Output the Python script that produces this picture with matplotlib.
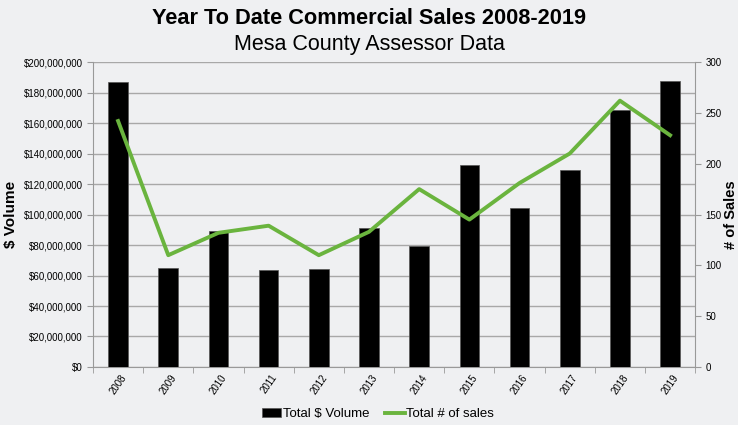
import numpy as np
import matplotlib
matplotlib.use("Agg")
import matplotlib.pyplot as plt
from matplotlib.ticker import FuncFormatter, MultipleLocator

years = ["2008", "2009", "2010", "2011", "2012", "2013",
         "2014", "2015", "2016", "2017", "2018", "2019"]
volume = [187e6, 65e6, 89.5e6, 63.8e6, 64e6, 91.3e6,
          79.5e6, 132.7e6, 104.3e6, 129e6, 168.3e6, 187.3e6]
sales = [242, 110, 132, 139, 110, 133, 175, 145, 181, 210, 262, 228]

plt.rcParams["font.family"] = ["Liberation Sans", "DejaVu Sans"]
bg = "#eff0f2"
green = "#6ab43e"

fig = plt.figure(figsize=(7.38, 4.25), dpi=100, facecolor=bg)
ax = fig.add_axes([0.126, 0.1365, 0.816, 0.7175])
ax.set_facecolor(bg)
x = np.arange(len(years))

bars = ax.bar(x, volume, width=0.39, color="black", edgecolor="#555555",
              linewidth=0.5, zorder=3, label="Total $ Volume")
ax.set_ylim(0, 200e6)
ax.set_xlim(-0.5, len(years) - 0.5)
ax.yaxis.set_major_locator(MultipleLocator(20e6))
ax.yaxis.set_major_formatter(FuncFormatter(lambda v, p: "${:,.0f}".format(v)))
ax.grid(axis="y", color="#a8a8a8", linewidth=1, zorder=0)
ax.set_xticks(x)
ax.set_xticklabels(years, rotation=55, fontsize=7, ha="center")
ax.set_xticks(np.arange(-0.5, len(years), 1), minor=True)
ax.tick_params(axis="x", which="major", length=0, pad=4)
ax.tick_params(axis="x", which="minor", length=4, color="#999999")
ax.tick_params(axis="y", labelsize=7, length=4, color="#999999")
for s in ["top", "right"]:
    ax.spines[s].set_visible(False)
for s in ["left", "bottom"]:
    ax.spines[s].set_color("#999999")
ax.set_ylabel("$ Volume", fontsize=11, fontweight="bold", labelpad=4)

ax2 = ax.twinx()
line, = ax2.plot(x, sales, color=green, linewidth=2.8, zorder=4,
                 label="Total # of sales")
ax2.set_ylim(0, 300)
ax2.yaxis.set_major_locator(MultipleLocator(50))
ax2.tick_params(axis="y", labelsize=7, length=4, color="#999999")
for s in ["top", "left", "bottom"]:
    ax2.spines[s].set_visible(False)
ax2.spines["right"].set_color("#999999")
ax2.set_ylabel("# of Sales", fontsize=10.5, fontweight="bold", rotation=90,
               va="center")
ax2.yaxis.set_label_coords(1.059, 0.5)

fig.text(0.5, 0.957, "Year To Date Commercial Sales 2008-2019",
         ha="center", va="center", fontsize=15.7, fontweight="bold")
fig.text(0.5, 0.895, "Mesa County Assessor Data",
         ha="center", va="center", fontsize=15.5)

fig.legend([bars, line], ["Total $ Volume", "Total # of sales"],
           loc="center", bbox_to_anchor=(0.512, 0.025), ncol=2, frameon=False,
           fontsize=9.5, handlelength=1.5, columnspacing=1.2, handletextpad=0.1)

fig.savefig("out.png", dpi=100, facecolor=bg)
